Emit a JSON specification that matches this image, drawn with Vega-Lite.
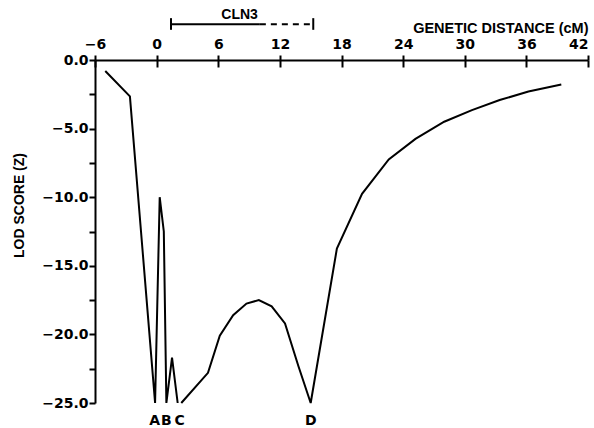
{
  "$schema": "https://vega.github.io/schema/vega-lite/v6.json",
  "width": 493,
  "height": 343,
  "autosize": "none",
  "padding": {"left": 95, "top": 60, "right": 6, "bottom": 25},
  "background": "white",
  "config": {
    "view": {"stroke": null},
    "axis": {"domainColor": "black", "tickColor": "black", "labelColor": "black", "titleColor": "black", "domainWidth": 2, "tickWidth": 2, "grid": false, "labelFlush": false, "labelOverlap": false}
  },
  "datasets": {
    "lod": [
      {"seg": 1, "cM": -5.0, "lod": -0.8},
      {"seg": 1, "cM": -2.6, "lod": -2.65},
      {"seg": 1, "cM": -0.15, "lod": -25},
      {"seg": 1, "cM": 0.3, "lod": -10.0},
      {"seg": 1, "cM": 0.7, "lod": -12.5},
      {"seg": 1, "cM": 0.95, "lod": -25},
      {"seg": 1, "cM": 1.5, "lod": -21.7},
      {"seg": 1, "cM": 2.05, "lod": -25},
      {"seg": 2, "cM": 2.4, "lod": -25},
      {"seg": 2, "cM": 5.0, "lod": -22.8},
      {"seg": 2, "cM": 6.15, "lod": -20.1},
      {"seg": 2, "cM": 7.45, "lod": -18.6},
      {"seg": 2, "cM": 8.75, "lod": -17.75},
      {"seg": 2, "cM": 9.95, "lod": -17.5},
      {"seg": 2, "cM": 11.2, "lod": -17.95},
      {"seg": 2, "cM": 12.5, "lod": -19.2},
      {"seg": 2, "cM": 13.8, "lod": -22.3},
      {"seg": 2, "cM": 15.0, "lod": -25},
      {"seg": 2, "cM": 17.55, "lod": -13.75},
      {"seg": 2, "cM": 20.0, "lod": -9.75},
      {"seg": 2, "cM": 22.6, "lod": -7.25},
      {"seg": 2, "cM": 25.2, "lod": -5.75},
      {"seg": 2, "cM": 28.0, "lod": -4.5},
      {"seg": 2, "cM": 30.7, "lod": -3.65},
      {"seg": 2, "cM": 33.4, "lod": -2.92},
      {"seg": 2, "cM": 36.2, "lod": -2.3},
      {"seg": 2, "cM": 39.4, "lod": -1.78}
    ],
    "markers": [
      {"marker": "A", "cM": -0.2},
      {"marker": "B", "cM": 0.95},
      {"marker": "C", "cM": 2.25},
      {"marker": "D", "cM": 15.0}
    ],
    "cln3": [
      {"label": "CLN3", "start": 1.4, "solidEnd": 10.05, "end": 15.25}
    ]
  },
  "resolve": {"axis": {"x": "independent", "y": "independent"}},
  "layer": [
    {
      "data": {"name": "lod"},
      "mark": {"type": "line", "color": "black", "strokeWidth": 2},
      "encoding": {
        "x": {
          "field": "cM", "type": "quantitative",
          "scale": {"domain": [-6, 42], "nice": false, "zero": false},
          "axis": {
            "orient": "top", "values": [-6, 0, 6, 12, 18, 24, 30, 36, 42],
            "title": "GENETIC DISTANCE (cM)", "titleFont": "Liberation Sans", "titleFontSize": 14.5, "titleFontWeight": "bold",
            "titleX": 493, "titleY": -28, "titleAlign": "right", "titleBaseline": "alphabetic", "titleAnchor": "end",
            "labelFont": "DejaVu Sans", "labelFontSize": 14, "labelFontWeight": "bold",
            "labelAlign": {"expr": "datum.value === 42 ? 'right' : 'center'"},
            "tickSize": 5, "labelPadding": 7, "labelBaseline": "alphabetic"
          }
        },
        "y": {
          "field": "lod", "type": "quantitative",
          "scale": {"domain": [-25, 0], "nice": false, "zero": false},
          "axis": {
            "orient": "left",
            "values": [0, -2.5, -5, -7.5, -10, -12.5, -15, -17.5, -20, -22.5, -25],
            "labelExpr": "datum.value % 5 === 0 ? format(datum.value, '.1f') : ''",
            "title": "LOD SCORE (Z)", "titleFont": "Liberation Sans", "titleFontSize": 14, "titleFontWeight": "bold",
            "titleX": -76, "titleY": 145, "titleAlign": "center", "titleBaseline": "middle", "titleAngle": -90,
            "labelFont": "DejaVu Sans", "labelFontSize": 14, "labelFontWeight": "bold",
            "tickSize": 6, "labelPadding": 1
          }
        },
        "detail": {"field": "seg"}
      }
    },
    {
      "data": {"name": "markers"},
      "mark": {"type": "text", "font": "DejaVu Sans", "fontSize": 14, "fontWeight": "bold", "baseline": "alphabetic", "dy": 22, "color": "black"},
      "encoding": {
        "x": {
          "field": "cM", "type": "quantitative",
          "axis": {"orient": "top", "values": [-6, 0, 6, 12, 18, 24, 30, 36, 42], "labels": false, "domain": false, "title": null, "tickSize": -7}
        },
        "y": {"datum": -25, "axis": null},
        "text": {"field": "marker"}
      }
    },
    {
      "data": {"name": "cln3"},
      "mark": {"type": "rule", "color": "black", "strokeWidth": 2},
      "encoding": {
        "x": {"field": "start", "type": "quantitative", "axis": null},
        "x2": {"field": "solidEnd"},
        "y": {"datum": 2.6, "axis": null}
      }
    },
    {
      "data": {"name": "cln3"},
      "mark": {"type": "rule", "color": "black", "strokeWidth": 2, "strokeDash": [6, 5]},
      "encoding": {
        "x": {"field": "solidEnd", "type": "quantitative", "axis": null},
        "x2": {"field": "end"},
        "y": {"datum": 2.6, "axis": null}
      }
    },
    {
      "data": {"name": "cln3"},
      "mark": {"type": "rule", "color": "black", "strokeWidth": 2},
      "encoding": {
        "x": {"field": "start", "type": "quantitative", "axis": null},
        "y": {"datum": 3.05, "axis": null},
        "y2": {"datum": 2.2}
      }
    },
    {
      "data": {"name": "cln3"},
      "mark": {"type": "rule", "color": "black", "strokeWidth": 2},
      "encoding": {
        "x": {"field": "end", "type": "quantitative", "axis": null},
        "y": {"datum": 3.05, "axis": null},
        "y2": {"datum": 2.2}
      }
    },
    {
      "data": {"name": "cln3"},
      "mark": {"type": "text", "font": "Liberation Sans", "fontSize": 14, "fontWeight": "bold", "align": "right", "baseline": "alphabetic", "dx": -2, "dy": -5, "color": "black"},
      "encoding": {
        "x": {"field": "solidEnd", "type": "quantitative", "axis": null},
        "y": {"datum": 2.6, "axis": null},
        "text": {"field": "label"}
      }
    }
  ]
}
